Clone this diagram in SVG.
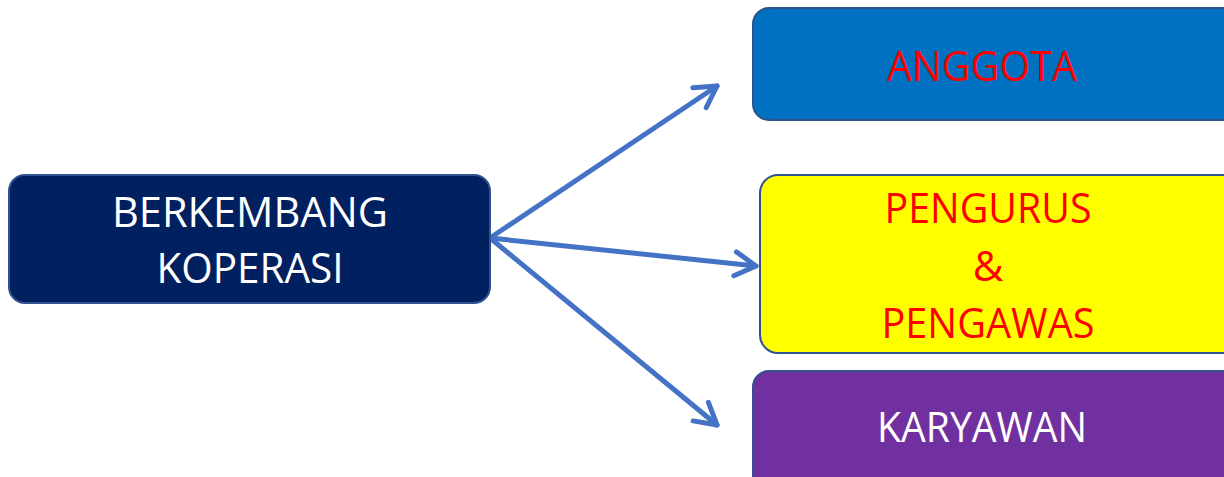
<svg xmlns="http://www.w3.org/2000/svg" width="1224" height="477" viewBox="0 0 1224 477">
  <style>
    .box { stroke: #2f528f; stroke-width: 2; }
    .lbl { font-family: "Open Sans", "Liberation Sans", sans-serif; font-size: 42px; text-anchor: middle; }
    .white { fill: #ffffff; }
    .red { fill: #ff0000; }
    .conn { fill: none; stroke: #4472c4; stroke-width: 5; stroke-linecap: round; stroke-linejoin: round; }
  </style>
  <defs>
    <marker id="chev" viewBox="0 0 30 30" refX="26" refY="15" markerWidth="30" markerHeight="30" markerUnits="userSpaceOnUse" orient="auto">
      <path d="M5 3 L26 15 L5 27" fill="none" stroke="#4472c4" stroke-width="5" stroke-linecap="round" stroke-linejoin="round"/>
    </marker>
  </defs>
  <rect width="1224" height="477" fill="#ffffff"/>

  <g id="connectors">
    <line class="conn" x1="490" y1="238" x2="717" y2="86" marker-end="url(#chev)"/>
    <line class="conn" x1="490" y1="238" x2="756" y2="266" marker-end="url(#chev)"/>
    <line class="conn" x1="490" y1="238" x2="717" y2="425" marker-end="url(#chev)"/>
  </g>

  <g id="berkembang">
    <rect class="box" x="9" y="175" width="481" height="128" rx="16" fill="#002060"/>
    <text class="lbl white" x="250" y="227" textLength="276" lengthAdjust="spacingAndGlyphs">BERKEMBANG</text>
    <text class="lbl white" x="250" y="283" textLength="187" lengthAdjust="spacingAndGlyphs">KOPERASI</text>
  </g>

  <g id="anggota">
    <rect class="box" x="753" y="8" width="490" height="112" rx="16" fill="#0070c0"/>
    <text class="lbl red" x="982" y="81" textLength="190" lengthAdjust="spacingAndGlyphs">ANGGOTA</text>
  </g>

  <g id="pengurus">
    <rect class="box" x="760" y="175" width="483" height="178" rx="18" fill="#ffff00"/>
    <text class="lbl red" x="988" y="223" textLength="207" lengthAdjust="spacingAndGlyphs">PENGURUS</text>
    <text class="lbl red" x="988" y="281">&amp;</text>
    <text class="lbl red" x="988" y="338" textLength="213" lengthAdjust="spacingAndGlyphs">PENGAWAS</text>
  </g>

  <g id="karyawan">
    <rect class="box" x="753" y="371" width="490" height="130" rx="16" fill="#7030a0"/>
    <text class="lbl white" x="982" y="442" textLength="210" lengthAdjust="spacingAndGlyphs">KARYAWAN</text>
  </g>
</svg>
